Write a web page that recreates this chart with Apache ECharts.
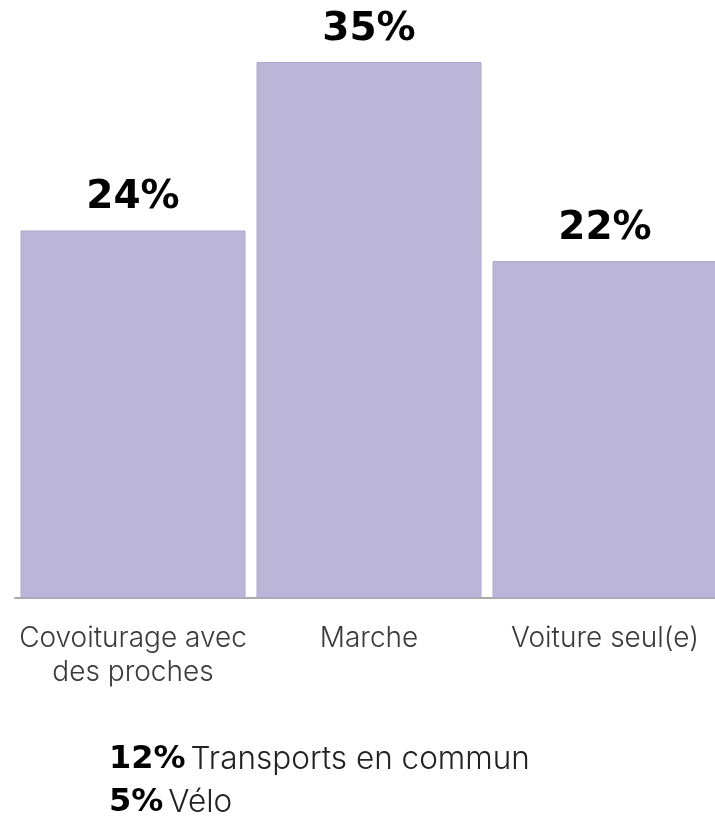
<!DOCTYPE html>
<html>
<head>
<meta charset="utf-8">
<script src="https://cdn.jsdelivr.net/npm/echarts@6/dist/echarts.min.js"></script>
<style>
  html, body { margin: 0; padding: 0; background: #fff; }
  #chart { width: 715px; height: 816px; }
</style>
</head>
<body>
<div id="chart"></div>
<script>
var myChart = echarts.init(document.getElementById('chart'));

var categories = ['Covoiturage avec\ndes proches', 'Marche', 'Voiture seul(e)'];
var values = [24, 35, 22];

// modes not drawn as bars, listed under the chart
var otherModes = ['Transports en commun', 'Vélo'];
var otherValues = [12, 5];

var footLines = otherModes.map(function (m, i) {
    return '{b|' + otherValues[i] + '%} {t|' + m + '}';
});

option = {
    backgroundColor: '#fff',
    grid: {
        left: 15,
        top: 62,
        width: 708,
        bottom: 218,
        outerBoundsMode: 'none'
    },
    title: {
        left: 104,
        top: 733,
        text: footLines.join('\n'),
        textStyle: {
            rich: {
                b: {
                    fontFamily: 'DejaVu Sans',
                    fontWeight: 'bold',
                    fontSize: 32,
                    color: '#000',
                    lineHeight: 43
                },
                t: {
                    fontFamily: 'Inter',
                    fontWeight: 300,
                    fontSize: 31.5,
                    color: '#222',
                    lineHeight: 43
                }
            }
        }
    },
    xAxis: {
        type: 'category',
        data: categories,
        axisTick: { show: false },
        axisLine: {
            lineStyle: { color: '#aaa', width: 2 }
        },
        axisLabel: {
            interval: 0,
            margin: 24,
            color: '#3a3a3a',
            fontFamily: 'Inter',
            fontWeight: 300,
            fontSize: 28,
            lineHeight: 34
        }
    },
    yAxis: {
        type: 'value',
        min: 0,
        max: 35,
        show: false
    },
    series: [{
        type: 'bar',
        data: values,
        barWidth: 225,
        itemStyle: {
            color: '#bbb5d7',
            borderColor: '#aea7cc',
            borderWidth: 1
        },
        label: {
            show: true,
            position: 'top',
            distance: 13,
            formatter: '{c}%',
            color: '#000',
            fontFamily: 'DejaVu Sans',
            fontWeight: 'bold',
            fontSize: 39
        }
    }]
};
myChart.setOption(option);
</script>
</body>
</html>
